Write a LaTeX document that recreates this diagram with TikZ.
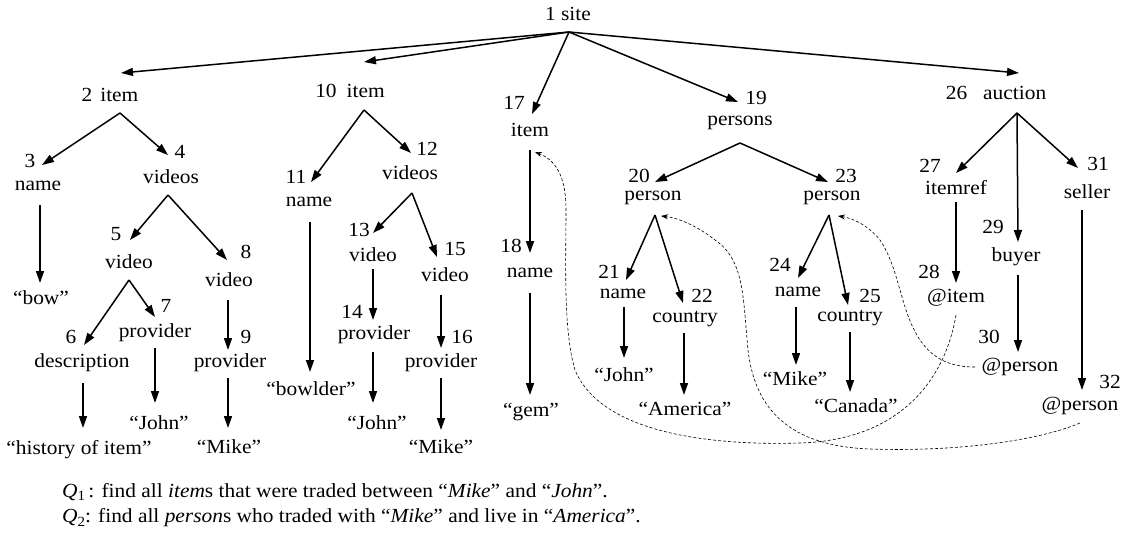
\documentclass[tikz,border=0pt]{standalone}
\usepackage{fontspec}
\setmainfont[FakeStretch=1.07]{Liberation Serif}
\usetikzlibrary{arrows.meta,calc}
\begin{document}
\begin{tikzpicture}[x=1pt,y=-1pt,
  every node/.style={inner sep=0pt,font=\fontsize{20}{24}\selectfont},
  arr/.style={line width=1.5pt,-{Triangle[length=12pt,width=8pt]}},
  ref/.style={line width=0.6pt,dash pattern=on 3pt off 2pt,-{Stealth[length=7pt,width=5pt]}},
  qtext/.style={anchor=west,font=\fontsize{20}{24}\selectfont}]
\useasboundingbox (0,0) rectangle (1124,536);
% nodes
\node (n1) at (568,14) {1 site};
\node (n2) at (110,95) {2\hspace{0.4em}item};
\node (n10) at (350,91) {10\hspace{0.5em}item};
\node (n17a) at (514,103) {17};
\node (n17) at (530,130) {item};
\node (n19a) at (756,98) {19};
\node (n19) at (740,123) {persons};
\node (n26) at (996,93) {26\hspace{0.8em}auction};
\node (n3a) at (30,161) {3};
\node (n3) at (38,186) {name};
\node (n4a) at (180,152) {4};
\node (n4) at (171,177) {videos};
\node (n3v) at (41,298) {“bow”};
\node (n5a) at (116,234) {5};
\node (n5) at (129,262) {video};
\node (n8a) at (246,252) {8};
\node (n8) at (229,280) {video};
\node (n6a) at (71,337) {6};
\node (n6) at (82,363) {description};
\node (n7a) at (166,306) {7};
\node (n7) at (155,333) {provider};
\node (n9a) at (246,337) {9};
\node (n9) at (230,363) {provider};
\node (n6v) at (79,450) {“history of item”};
\node (n7v) at (159,423) {“John”};
\node (n9v) at (229,447) {“Mike”};
\node (n11a) at (296,177) {11};
\node (n11) at (309,202) {name};
\node (n12a) at (427,149) {12};
\node (n12) at (410,173) {videos};
\node (n11v) at (311,389) {“bowlder”};
\node (n13a) at (359,230) {13};
\node (n13) at (373,255) {video};
\node (n15a) at (455,249) {15};
\node (n15) at (445,275) {video};
\node (n14a) at (352,312) {14};
\node (n14) at (374,335) {provider};
\node (n16a) at (462,337) {16};
\node (n16) at (441,363) {provider};
\node (n14v) at (377,423) {“John”};
\node (n16v) at (441,447) {“Mike”};
\node (n18a) at (511,246) {18};
\node (n18) at (530,273) {name};
\node (n18v) at (531,412) {“gem”};
\node (n20a) at (639,176) {20};
\node (n20) at (653,198) {person};
\node (n23a) at (846,176) {23};
\node (n23) at (832,198) {person};
\node (n21a) at (609,272) {21};
\node (n21) at (623,294) {name};
\node (n22a) at (702,296) {22};
\node (n22) at (685,319) {country};
\node (n21v) at (624,375) {“John”};
\node (n22v) at (685,409) {“America”};
\node (n24a) at (780,265) {24};
\node (n24) at (798,292) {name};
\node (n25a) at (870,296) {25};
\node (n25) at (850,318) {country};
\node (n24v) at (795,379) {“Mike”};
\node (n25v) at (856,406) {“Canada”};
\node (n27a) at (930,166) {27};
\node (n27) at (956,188) {itemref};
\node (n28a) at (929,272) {28};
\node (n28) at (956,298) {@item};
\node (n29a) at (993,227) {29};
\node (n29) at (1016,257) {buyer};
\node (n30a) at (989,337) {30};
\node (n30) at (1020,367) {@person};
\node (n31a) at (1098,164) {31};
\node (n31) at (1087,192) {seller};
\node (n32a) at (1110,382) {32};
\node (n32) at (1080,406) {@person};
\node[qtext] (q1) at (62,492) {\textit{Q}\raisebox{-0.35ex}{\fontsize{14}{16}\selectfont 1}\,: find all \textit{item}s that were traded between “\textit{Mike}” and “\textit{John}”.};
\node[qtext] (q2) at (62,518) {\textit{Q}\raisebox{-0.35ex}{\fontsize{14}{16}\selectfont 2}: find all \textit{person}s who traded with “\textit{Mike}” and live in “\textit{America}”.};
% root
\draw[arr] ($(n1)+(1,18)$) -- ($(n2)+(11,-22)$);
\draw[arr] ($(n1)+(1,18)$) -- ($(n10)+(14,-29)$);
\draw[arr] ($(n1)+(1,18)$) -- ($(n17a)+(18,11)$);
\draw[arr] ($(n1)+(1,18)$) -- ($(n19a)+(-18,4)$);
\draw[arr] ($(n1)+(1,18)$) -- ($(n26)+(23,-20)$);
% subtree 2
\draw[arr] ($(n2)+(10,18)$) -- ($(n3a)+(12,4)$);
\draw[arr] ($(n2)+(10,18)$) -- ($(n4a)+(-12,3)$);
\draw[arr] ($(n3)+(2,19)$) -- ($(n3v)+(-1,-15)$);
\draw[arr] ($(n4)+(-3,18)$) -- ($(n5a)+(14,6)$);
\draw[arr] ($(n4)+(-3,18)$) -- ($(n8a)+(-19,8)$);
\draw[arr] ($(n5)+(0,18)$) -- ($(n6a)+(13,8)$);
\draw[arr] ($(n5)+(0,18)$) -- ($(n7a)+(-11,11)$);
\draw[arr] ($(n6)+(1,20)$) -- ($(n6v)+(4,-22)$);
\draw[arr] ($(n7)+(0,15)$) -- ($(n7v)+(-4,-20)$);
\draw[arr] ($(n8)+(-1,20)$) -- ($(n9a)+(-18,13)$);
\draw[arr] ($(n9)+(-2,15)$) -- ($(n9v)+(-1,-19)$);
% subtree 10
\draw[arr] ($(n10)+(14,19)$) -- ($(n11a)+(15,5)$);
\draw[arr] ($(n10)+(14,19)$) -- ($(n12a)+(-16,4)$);
\draw[arr] ($(n11)+(1,20)$) -- ($(n11v)+(-1,-17)$);
\draw[arr] ($(n12)+(2,20)$) -- ($(n13a)+(14,3)$);
\draw[arr] ($(n12)+(2,20)$) -- ($(n15a)+(-18,8)$);
\draw[arr] ($(n13)+(0,14)$) -- ($(n14a)+(21,8)$);
\draw[arr] ($(n14)+(-1,17)$) -- ($(n14v)+(-4,-20)$);
\draw[arr] ($(n15)+(-4,20)$) -- ($(n16a)+(-21,11)$);
\draw[arr] ($(n16)+(0,15)$) -- ($(n16v)+(0,-17)$);
% subtree 17
\draw[arr] ($(n17)+(0,20)$) -- ($(n18a)+(19,7)$);
\draw[arr] ($(n18)+(0,20)$) -- ($(n18v)+(-1,-17)$);
% subtree 19
\draw[arr] ($(n19)+(0,20)$) -- ($(n20a)+(16,6)$);
\draw[arr] ($(n19)+(0,20)$) -- ($(n23a)+(-18,6)$);
\draw[arr] ($(n20)+(2,17)$) -- ($(n21a)+(17,8)$);
\draw[arr] ($(n20)+(2,17)$) -- ($(n22a)+(-19,7)$);
\draw[arr] ($(n21)+(1,13)$) -- ($(n21v)+(0,-17)$);
\draw[arr] ($(n22)+(-1,14)$) -- ($(n22v)+(-1,-14)$);
\draw[arr] ($(n23)+(-3,17)$) -- ($(n24a)+(18,13)$);
\draw[arr] ($(n23)+(-3,17)$) -- ($(n25a)+(-22,9)$);
\draw[arr] ($(n24)+(-2,15)$) -- ($(n24v)+(1,-14)$);
\draw[arr] ($(n25)+(0,14)$) -- ($(n25v)+(-6,-14)$);
% subtree 26
\draw[arr] ($(n26)+(21,20)$) -- ($(n27a)+(26,7)$);
\draw[arr] ($(n26)+(21,20)$) -- ($(n29a)+(25,15)$);
\draw[arr] ($(n26)+(21,20)$) -- ($(n31a)+(-20,4)$);
\draw[arr] ($(n27)+(0,14)$) -- ($(n28a)+(27,11)$);
\draw[arr] ($(n29)+(2,18)$) -- ($(n30a)+(29,15)$);
\draw[arr] ($(n31)+(-5,18)$) -- ($(n32a)+(-28,8)$);
% references
\draw[ref] ($(n28)+(0,17)$) .. controls (945,380) and (900,440) .. (800,443)
  .. controls (700,446) and (600,430) .. (575,370)
  .. controls (563,330) and (566,260) .. (566,210)
  .. controls (566,175) and (555,160) .. ($(n17)+(5,22)$);
\draw[ref] ($(n32)+(0,17)$) .. controls (1040,440) and (960,452) .. (870,449)
  .. controls (790,446) and (755,410) .. (748,350)
  .. controls (743,300) and (745,260) .. (715,240)
  .. controls (700,228) and (680,218) .. ($(n20)+(8,18)$);
\draw[ref] ($(n30)+(-45,0)$) .. controls (955,367) and (935,362) .. (920,340)
  .. controls (900,310) and (900,270) .. (880,240)
  .. controls (868,225) and (852,218) .. ($(n23)+(6,18)$);
\end{tikzpicture}
\end{document}
